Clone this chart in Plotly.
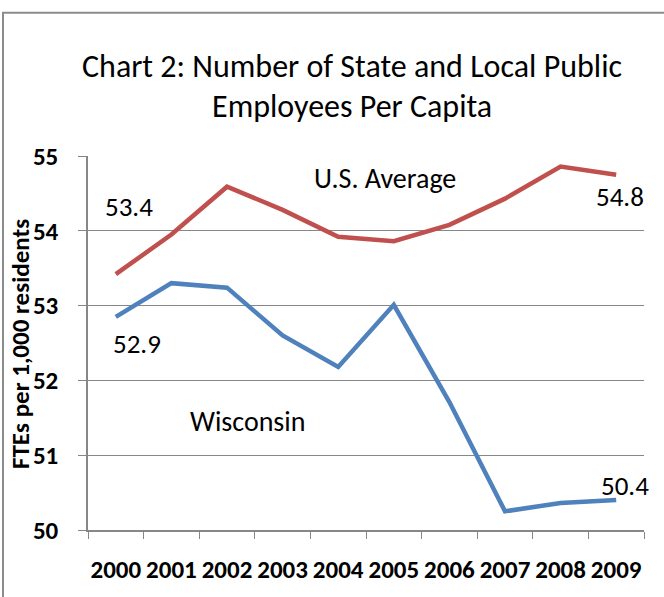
import plotly.graph_objects as go

years = ["2000", "2001", "2002", "2003", "2004", "2005", "2006", "2007", "2008", "2009"]
us_avg = [53.42, 53.95, 54.59, 54.28, 53.92, 53.86, 54.08, 54.43, 54.86, 54.75]
wisconsin = [52.85, 53.30, 53.24, 52.60, 52.18, 53.01, 51.71, 50.25, 50.36, 50.40]
y_ticks = [50, 51, 52, 53, 54, 55]

FONT = "Carlito, Calibri, Lato, sans-serif"
RED = "#C0504D"
BLUE = "#4F81BD"
GRID = "#878787"

fig = go.Figure()
fig.add_trace(go.Scatter(x=years, y=us_avg, mode="lines", name="U.S. Average",
                         line=dict(color=RED, width=4.5)))
fig.add_trace(go.Scatter(x=years, y=wisconsin, mode="lines", name="Wisconsin",
                         line=dict(color=BLUE, width=4.5)))

L, R, T, B = 88, 20, 155.5, 64.5
W, H = 664, 597
pw = W - L - R
ph = H - T - B

def px(x):
    return (x - L) / pw

def py(y):
    return (H - B - y) / ph

annos = [
    dict(text="53.4", x=0.23, y=54.32, size=27),
    dict(text="52.9", x=0.38, y=52.49, size=27),
    dict(text="U.S. Average", x=4.84, y=54.70, size=28),
    dict(text="54.8", x=9.06, y=54.46, size=27),
    dict(text="Wisconsin", x=2.37, y=51.45, size=28),
    dict(text="50.4", x=9.15, y=50.59, size=27),
]
annotations = []
for a in annos:
    annotations.append(dict(text=a["text"], x=a["x"], y=a["y"], xref="x", yref="y",
                            showarrow=False, xanchor="center", yanchor="middle",
                            font=dict(family=FONT, size=a["size"], color="#000000")))

annotations.append(dict(text="Chart 2: Number of State and Local Public", x=px(352), y=py(65),
                        xref="paper", yref="paper", showarrow=False,
                        xanchor="center", yanchor="middle",
                        font=dict(family=FONT, size=32, color="#000000")))
annotations.append(dict(text="Employees Per Capita", x=px(352), y=py(106),
                        xref="paper", yref="paper", showarrow=False,
                        xanchor="center", yanchor="middle",
                        font=dict(family=FONT, size=32, color="#000000")))
annotations.append(dict(text="<b>FTEs per 1,000 residents</b>", x=px(21), y=py(345),
                        xref="paper", yref="paper", showarrow=False, textangle=-90,
                        xanchor="center", yanchor="middle",
                        font=dict(family=FONT, size=25, color="#000000")))

border_path = "M {x0} {y0} L {x0} {y1} L {x1} {y1}".format(
    x0=px(3), y0=py(620), y1=py(11), x1=px(700))

fig.update_layout(
    width=W, height=H,
    margin=dict(l=L, r=R, t=T, b=B),
    paper_bgcolor="white", plot_bgcolor="white",
    showlegend=False,
    annotations=annotations,
    shapes=[dict(type="path", xref="paper", yref="paper", path=border_path,
                 line=dict(color="#8C8C8C", width=2), layer="below")],
    xaxis=dict(type="category", tickson="boundaries", ticks="outside", ticklen=7,
               tickcolor=GRID, showline=True, linecolor=GRID, linewidth=1.5,
               showgrid=False, range=[-0.5, 9.5], tickangle=0, ticklabelstandoff=16,
               tickfont=dict(family=FONT, size=25, color="#000000", weight="bold")),
    yaxis=dict(range=[50, 55], tickvals=y_ticks, ticks="outside", ticklen=8,
               tickcolor=GRID, showline=True, linecolor=GRID, linewidth=1.5,
               showgrid=True, gridcolor=GRID, gridwidth=1.3, zeroline=False,
               ticklabelstandoff=15,
               tickfont=dict(family=FONT, size=25, color="#000000", weight="bold")),
)

fig.write_html("out.html", config={"displayModeBar": False},
               post_script="document.body.style.margin='0';document.body.style.overflow='hidden';")
